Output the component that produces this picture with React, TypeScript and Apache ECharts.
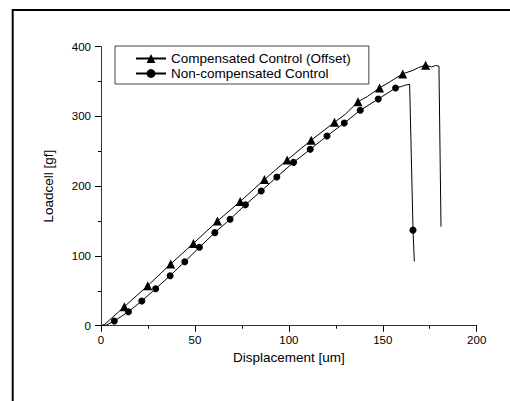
import React, { useEffect, useRef } from "react";
import * as echarts from "echarts";

const xTickMax = 200;
const yTickMax = 400;

const seriesNames = ["Compensated Control (Offset)", "Non-compensated Control"];

// Compensated control: marker points (triangles) and extra trace points
const compMarkers: number[][] = [
  [12.4, 27.2], [24.9, 57.4], [37.1, 88.5], [49.2, 118], [62, 150], [74.1, 178],
  [87, 209.5], [99.1, 237.6], [111.9, 266], [124.3, 291.6], [136.8, 321],
  [148.3, 340.8], [160.6, 361], [172.8, 373.5],
];
const compTrace: number[][] = [
  [0, 0], [2, 2], [130, 303], [142, 329], [154, 350], [166, 366], [169, 370],
  [176, 371], [178, 373], [179.9, 372], [181, 142],
];

// Non-compensated control: marker points (circles) and extra trace points
const nonMarkers: number[][] = [
  [7.1, 6.7], [14.6, 20.1], [21.7, 35.4], [29.1, 53.1], [36.8, 71.7], [44.6, 91.8],
  [52.4, 112.4], [60.6, 133.4], [68.7, 152.5], [76.9, 173.5], [85.3, 193.1],
  [93.6, 213.2], [102.5, 234.2], [111.4, 252.9], [120.3, 272], [129.5, 290.6],
  [138, 308.8], [147.6, 325], [156.8, 340.8], [166.1, 137],
];
const nonTrace: number[][] = [
  [0, 0], [3, 1], [160, 343], [162, 345], [164.3, 346], [166.8, 92],
];

function merge(markers: number[][], trace: number[][]) {
  const items = [
    ...markers.map((p) => ({ value: p })),
    ...trace.map((p) => ({ value: p, symbol: "none" })),
  ];
  items.sort((a, b) => a.value[0] - b.value[0]);
  return items;
}

const FONT = "'Liberation Sans', Arial, sans-serif";

export default function App() {
  const ref = useRef<HTMLDivElement>(null);
  useEffect(() => {
    if (!ref.current) return;
    const chart = echarts.init(ref.current, undefined, { renderer: "svg" });
    chart.setOption({
      animation: false,
      backgroundColor: "#fff",
      textStyle: { fontFamily: FONT, color: "#000" },
      grid: { left: 101, right: 33.3, top: 46.7, bottom: 75.3, containLabel: false },
      graphic: [
        {
          type: "polyline",
          shape: { points: [[12.7, 401], [12.7, 10], [510, 10]] },
          style: { stroke: "#000", lineWidth: 2, fill: "none" },
          z: 100,
        },
      ],
      legend: {
        orient: "vertical",
        left: 115,
        top: 46,
        padding: [5, 18, 3, 20],
        itemWidth: 30,
        itemHeight: 11,
        itemGap: 0,
        borderColor: "#444",
        borderWidth: 1,
        textStyle: { fontFamily: FONT, fontSize: 13.5, color: "#000", lineHeight: 15 },
        data: seriesNames,
      },
      xAxis: {
        type: "value",
        min: 0,
        max: xTickMax,
        interval: 50,
        name: "Displacement [um]",
        nameLocation: "middle",
        nameGap: 21,
        nameTextStyle: { fontFamily: FONT, fontSize: 13.5, color: "#000" },
        axisLine: { show: true, onZero: false, lineStyle: { color: "#333", width: 1 } },
        axisTick: { show: true, inside: false, length: 6, lineStyle: { color: "#000" } },
        minorTick: { show: true, splitNumber: 2, length: 3, lineStyle: { color: "#000" } },
        axisLabel: { fontFamily: FONT, fontSize: 11.5, color: "#000", margin: 8 },
        splitLine: { show: false },
      },
      yAxis: {
        type: "value",
        min: 0,
        max: yTickMax,
        interval: 100,
        name: "Loadcell [gf]",
        nameLocation: "middle",
        nameGap: 46,
        nameRotate: 90,
        nameTextStyle: { fontFamily: FONT, fontSize: 13.5, color: "#000" },
        axisLine: { show: true, onZero: false, lineStyle: { color: "#333", width: 1 } },
        axisTick: { show: true, inside: false, length: 6, lineStyle: { color: "#000" } },
        minorTick: { show: true, splitNumber: 2, length: 3, lineStyle: { color: "#000" } },
        axisLabel: { fontFamily: FONT, fontSize: 11.5, color: "#000", margin: 10 },
        splitLine: { show: false },
      },
      series: [
        {
          name: seriesNames[0],
          type: "line",
          symbol: "triangle",
          symbolSize: 9,
          showAllSymbol: true,
          clip: false,
          lineStyle: { color: "#000", width: 1 },
          itemStyle: { color: "#000" },
          data: merge(compMarkers, compTrace),
        },
        {
          name: seriesNames[1],
          type: "line",
          symbol: "circle",
          symbolSize: 7,
          showAllSymbol: true,
          clip: false,
          lineStyle: { color: "#000", width: 1 },
          itemStyle: { color: "#000" },
          data: merge(nonMarkers, nonTrace),
        },
      ],
    });
    return () => chart.dispose();
  }, []);
  return (
    <div
      ref={ref}
      style={{ position: "fixed", left: 0, top: 0, width: 510, height: 401, background: "#fff" }}
    />
  );
}
